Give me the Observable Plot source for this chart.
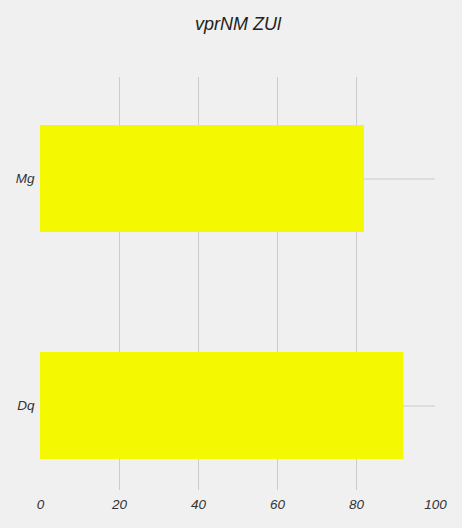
<!DOCTYPE html>
<html>
<head>
<meta charset="utf-8">
<script src="https://cdn.jsdelivr.net/npm/d3@7"></script>
<script src="https://cdn.jsdelivr.net/npm/@observablehq/plot@0.6"></script>
<style>
  html, body { margin: 0; padding: 0; background: #f0f0f0; }
  #chart svg { display: block; }
  #chart svg g[aria-label="x-axis tick label"] text,
  #chart svg g[aria-label="y-axis tick label"] text { font-size: 13.5px; }
  #chart svg g[aria-label="x-axis tick label"],
  #chart svg g[aria-label="y-axis tick label"] { font-size: 13.5px; }
</style>
</head>
<body>
<div id="chart"></div>
<script>
const title = "vprNM ZUl";
const categories = ["Mg", "Dq"];
const values = [82, 92];
const xTicks = [0, 20, 40, 60, 80, 100];
const gridTicks = [20, 40, 60, 80];

const data = categories.map((c, i) => ({category: c, value: values[i]}));

const chart = Plot.plot({
  width: 462,
  height: 528,
  marginTop: 77,
  marginBottom: 38,
  marginLeft: 40,
  marginRight: 27,
  style: {
    background: "#f0f0f0",
    fontFamily: "'Liberation Sans', Arial, Helvetica, sans-serif",
    fontStyle: "italic",
    fontSize: "13.5px",
    color: "#333"
  },
  x: {domain: [0, 100], ticks: xTicks, label: null},
  y: {domain: categories, paddingInner: 0.53, paddingOuter: 0.171, align: 0.609, label: null},
  marks: [
    Plot.ruleX(gridTicks, {stroke: "#cbcbcb", strokeWidth: 1}),
    Plot.gridY({stroke: "#cbcbcb", strokeOpacity: 1, strokeWidth: 1}),
    Plot.barX(data, {x: "value", y: "category", fill: "#f4f800"}),
    Plot.axisX({ticks: xTicks, tickSize: 0, tickPadding: 9, label: null, fontSize: 13.5}),
    Plot.axisY({tickSize: 0, tickPadding: 6, label: null, fontSize: 13.5}),
    Plot.text([title], {frameAnchor: "top", dy: -53, lineAnchor: "middle", fontSize: 18, fill: "#222", fontStyle: "italic"})
  ]
});
document.getElementById("chart").appendChild(chart);
</script>
</body>
</html>
